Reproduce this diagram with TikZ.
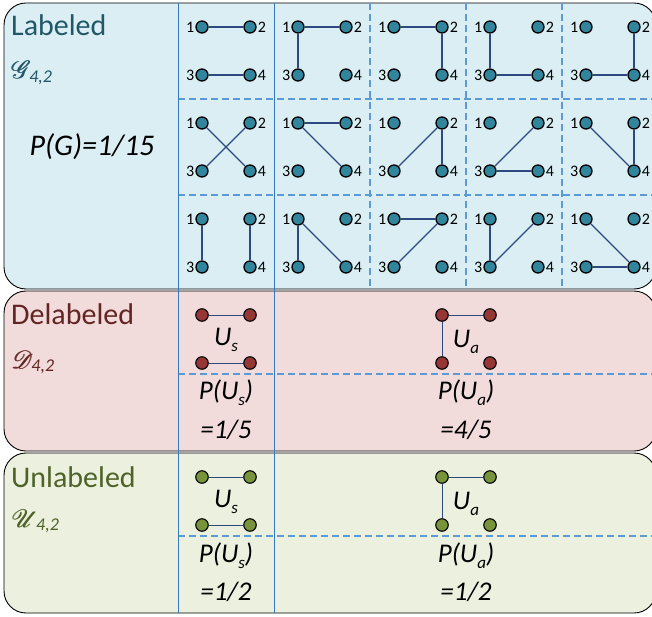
\documentclass[tikz,border=0pt]{standalone}
\usepackage{fontspec}
\setmainfont{Carlito}
\usepackage{mathrsfs}

\definecolor{lblfill}{HTML}{DBEEF4}
\definecolor{dlbfill}{HTML}{F2DCDB}
\definecolor{ulbfill}{HTML}{EBF1DE}
\definecolor{lbltext}{HTML}{215868}
\definecolor{dlbtext}{HTML}{632523}
\definecolor{ulbtext}{HTML}{4F6228}
\definecolor{tealnode}{HTML}{31859C}
\definecolor{rednode}{HTML}{953735}
\definecolor{greennode}{HTML}{77933C}
\definecolor{edgeblue}{HTML}{2C4A7E}
\definecolor{sepblue}{HTML}{3579C0}
\definecolor{dashblue}{HTML}{5B9BD5}

% lowered small subscript in text font
\newcommand\lowsub[1]{\raisebox{-0.22em}{\fontsize{17}{17}\selectfont #1}}
% script letter, set twice with a slight shift to thicken its strokes
\newcommand\heavyscr[1]{\makebox[0pt][l]{$\mathscr{#1}$}\kern0.6pt$\mathscr{#1}$}
% script family letter with its 4,2 index
\newcommand\famname[1]{{\fontsize{31}{31}\selectfont\heavyscr{#1}}\kern-2pt\raisebox{-3.5pt}{\fontsize{18}{18}\selectfont\itshape 4,2}}

\tikzset{
  panel/.style={draw=black, line width=0.9pt, rounded corners=22pt},
  vtx/.style={circle, draw=black, line width=1.3pt, fill=tealnode,
    minimum size=12pt, inner sep=0pt, label distance=2pt},
  bvtx/.style={circle, draw=black, line width=1.1pt,
    minimum size=12.5pt, inner sep=0pt},
  num/.style={font=\fontsize{16}{16}\selectfont, inner sep=1pt},
  edge/.style={draw=edgeblue, line width=1.1pt},
  solidsep/.style={draw=sepblue, line width=1pt},
  dashsep/.style={draw=dashblue, line width=1.3pt, dash pattern=on 7pt off 4pt},
  title/.style={font=\fontsize{30}{30}\selectfont, inner sep=0pt, anchor=base west},
  scr/.style={inner sep=0pt, anchor=base west},
  big/.style={font=\fontsize{27}{27}\selectfont\itshape, inner sep=0pt},
}

\begin{document}
\begin{tikzpicture}[x=1pt, y=-1pt]
\useasboundingbox (0,0) rectangle (652,617);

% three bands
\path[panel, fill=lblfill] (4,3) rectangle (656,289);
\path[panel, fill=dlbfill] (4,291) rectangle (656,451);
\path[panel, fill=ulbfill] (4,453) rectangle (656,613);

% grid of the labelled band
\foreach \x in {370,466,562}
  \draw[dashsep] (\x,3.5) -- (\x,288.5);
\foreach \y in {99,195}
  \draw[dashsep] (178,\y) -- (652,\y);
\draw[dashsep] (178,374) -- (652,374);
\draw[dashsep] (178,536) -- (652,536);
\draw[solidsep] (178,3.5) -- (178,613);
\draw[solidsep] (274,3.5) -- (274,613);

% the fifteen labelled graphs: row/column/edge a-b/edge p-q
\foreach \r/\c/\a/\b/\p/\q in {
  0/0/1/2/3/4, 0/1/1/2/1/3, 0/2/1/2/2/4, 0/3/1/3/3/4, 0/4/2/4/3/4,
  1/0/1/4/2/3, 1/1/1/2/1/4, 1/2/2/3/2/4, 1/3/2/3/3/4, 1/4/1/4/2/4,
  2/0/1/3/2/4, 2/1/1/3/1/4, 2/2/1/2/2/3, 2/3/1/3/2/3, 2/4/1/4/3/4}{
  \pgfmathtruncatemacro\xl{202+96*\c}
  \pgfmathtruncatemacro\xr{250+96*\c}
  \pgfmathtruncatemacro\yt{27+96*\r}
  \pgfmathtruncatemacro\yb{75+96*\r}
  \node[vtx, label={[num]left:1}]  (v\r\c-1) at (\xl,\yt) {};
  \node[vtx, label={[num]right:2}] (v\r\c-2) at (\xr,\yt) {};
  \node[vtx, label={[num]left:3}]  (v\r\c-3) at (\xl,\yb) {};
  \node[vtx, label={[num]right:4}] (v\r\c-4) at (\xr,\yb) {};
  \draw[edge] (v\r\c-\a) -- (v\r\c-\b);
  \draw[edge] (v\r\c-\p) -- (v\r\c-\q);
}

% titles
\node[title, text=lbltext] (tL) at (11,36) {Labeled};
\node[scr, text=lbltext] (sG) at (11,79) {\famname{G}};
\node[font=\fontsize{30}{30}\selectfont\itshape, inner sep=0pt] (pG) at (92,147) {P(G)=1/15};

\node[title, text=dlbtext] (tD) at (11,324) {Delabeled};
\node[scr, text=dlbtext] (sD) at (11,368) {\famname{D}};

\node[title, text=ulbtext] (tU) at (11,487) {Unlabeled};
\node[scr, text=ulbtext] (sU) at (11,527) {\famname{U}};

% delabelled classes
\node[bvtx, fill=rednode] (ds1) at (202,315) {};
\node[bvtx, fill=rednode] (ds2) at (250,315) {};
\node[bvtx, fill=rednode] (ds3) at (202,363) {};
\node[bvtx, fill=rednode] (ds4) at (250,363) {};
\draw[edge, line width=1pt] (ds1) -- (ds2);
\draw[edge, line width=1pt] (ds3) -- (ds4);
\node[big] (dUs) at (226,340) {U\lowsub{s}};

\node[bvtx, fill=rednode] (da1) at (442,315) {};
\node[bvtx, fill=rednode] (da2) at (490,315) {};
\node[bvtx, fill=rednode] (da3) at (442,363) {};
\node[bvtx, fill=rednode] (da4) at (490,363) {};
\draw[edge, line width=1pt] (da1) -- (da2);
\draw[edge, line width=1pt] (da1) -- (da3);
\node[big] (dUa) at (466,342) {U\lowsub{a}};

\node[big] (dPs) at (226,393) {P(U\lowsub{s})};
\node[big] (dVs) at (226,430) {=1/5};
\node[big] (dPa) at (466,393) {P(U\lowsub{a})};
\node[big] (dVa) at (466,430) {=4/5};

% unlabelled classes
\node[bvtx, fill=greennode] (us1) at (202,477) {};
\node[bvtx, fill=greennode] (us2) at (250,477) {};
\node[bvtx, fill=greennode] (us3) at (202,525) {};
\node[bvtx, fill=greennode] (us4) at (250,525) {};
\draw[edge, line width=1pt] (us1) -- (us2);
\draw[edge, line width=1pt] (us3) -- (us4);
\node[big] (uUs) at (226,502) {U\lowsub{s}};

\node[bvtx, fill=greennode] (ua1) at (442,477) {};
\node[bvtx, fill=greennode] (ua2) at (490,477) {};
\node[bvtx, fill=greennode] (ua3) at (442,525) {};
\node[bvtx, fill=greennode] (ua4) at (490,525) {};
\draw[edge, line width=1pt] (ua1) -- (ua2);
\draw[edge, line width=1pt] (ua1) -- (ua3);
\node[big] (uUa) at (466,504) {U\lowsub{a}};

\node[big] (uPs) at (226,556) {P(U\lowsub{s})};
\node[big] (uVs) at (226,592) {=1/2};
\node[big] (uPa) at (466,556) {P(U\lowsub{a})};
\node[big] (uVa) at (466,592) {=1/2};
\end{tikzpicture}
\end{document}
